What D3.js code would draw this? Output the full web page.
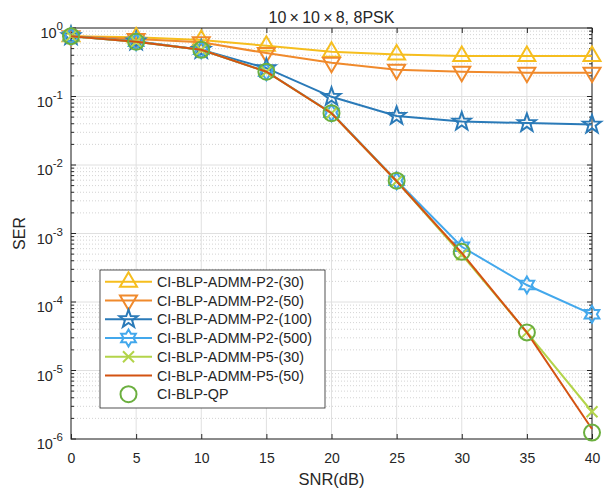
<!DOCTYPE html>
<html>
<head>
<meta charset="utf-8">
<script src="https://d3js.org/d3.v7.min.js"></script>
<style>
  body { margin: 0; background: #fff; }
  text { font-family: "Liberation Sans", Arial, sans-serif; fill: #262626; }
</style>
</head>
<body>
<script>
(function(){

  //data
  var snr = [0, 5, 10, 15, 20, 25, 30, 35, 40];
  var p2_30  = [0.76, 0.73, 0.67, 0.55, 0.45, 0.41, 0.39, 0.39, 0.39];
  var p2_50  = [0.76, 0.69, 0.62, 0.43, 0.31, 0.245, 0.23, 0.223, 0.223];
  var p2_100 = [0.76, 0.64, 0.48, 0.26, 0.099, 0.052, 0.043, 0.041, 0.039];
  var p2_500 = [0.76, 0.63, 0.48, 0.23, 0.058, 0.0059, 0.00064, 0.000177, 0.000066];
  var p5_30  = [0.76, 0.63, 0.48, 0.23, 0.057, 0.0058, 0.00049, 0.000036, 0.0000025];
  var p5_50  = [0.76, 0.63, 0.48, 0.23, 0.057, 0.0058, 0.00052, 0.000036, 0.0000014];
  var qp     = [0.76, 0.63, 0.48, 0.23, 0.057, 0.0059, 0.00054, 0.000036, 0.00000124];

  var names = ["CI-BLP-ADMM-P2-(30)", "CI-BLP-ADMM-P2-(50)", "CI-BLP-ADMM-P2-(100)",
               "CI-BLP-ADMM-P2-(500)", "CI-BLP-ADMM-P5-(30)", "CI-BLP-ADMM-P5-(50)", "CI-BLP-QP"];
  var xTicks = [0, 5, 10, 15, 20, 25, 30, 35, 40];
  var yExp = [0, -1, -2, -3, -4, -5, -6];

  //series table built from the arrays above
  var series = [
    {name: names[0], vals: p2_30,  color: "#F6BE1E", marker: "up",    line: true},
    {name: names[1], vals: p2_50,  color: "#F08A2C", marker: "down",  line: true},
    {name: names[2], vals: p2_100, color: "#2A7AB8", marker: "penta", line: true},
    {name: names[3], vals: p2_500, color: "#43A8EC", marker: "hexa",  line: true},
    {name: names[4], vals: p5_30,  color: "#B3D44A", marker: "x",     line: true},
    {name: names[5], vals: p5_50,  color: "#D35312", marker: "none",  line: true},
    {name: names[6], vals: qp,     color: "#6BAF3F", marker: "circle", line: false}
  ];

  var width = 605, height = 489;
  var margin = {top: 28, right: 13, bottom: 50, left: 71};

  var svg = d3.select("body").append("svg")
    .attr("width", width)
    .attr("height", height);

  var x = d3.scaleLinear().domain([0, 40]).range([margin.left, width - margin.right]);
  var y = d3.scaleLog().domain([1e-6, 1]).range([height - margin.bottom, margin.top]);

  var x0 = margin.left, x1 = width - margin.right, y0 = height - margin.bottom, y1 = margin.top;

  //minor grid (dotted) and major grid
  var minors = [];
  yExp.forEach(function(e){
    if (e === 0) return;
    for (var k = 2; k <= 9; k++) minors.push(k * Math.pow(10, e));
  });
  svg.append("g").selectAll("line").data(minors).enter().append("line")
    .attr("x1", x0).attr("x2", x1)
    .attr("y1", function(d){ return y(d); }).attr("y2", function(d){ return y(d); })
    .attr("stroke", "#c8c8c8").attr("stroke-width", 0.8).attr("stroke-dasharray", "1,2");
  svg.append("g").selectAll("line").data(yExp).enter().append("line")
    .attr("x1", x0).attr("x2", x1)
    .attr("y1", function(d){ return y(Math.pow(10, d)); }).attr("y2", function(d){ return y(Math.pow(10, d)); })
    .attr("stroke", "#e0e0e0").attr("stroke-width", 1);
  svg.append("g").selectAll("line").data(xTicks).enter().append("line")
    .attr("x1", function(d){ return x(d); }).attr("x2", function(d){ return x(d); })
    .attr("y1", y0).attr("y2", y1)
    .attr("stroke", "#e0e0e0").attr("stroke-width", 1);

  //axes (ticks inward, box on)
  var axisColor = "#262626";
  var bottomAxis = d3.axisBottom(x).tickValues(xTicks).tickSizeInner(-5).tickSizeOuter(0).tickPadding(14);
  var gx = svg.append("g").attr("transform", "translate(0," + y0 + ")").call(bottomAxis);
  gx.select(".domain").remove();
  gx.selectAll("line").attr("stroke", axisColor);
  gx.selectAll("text").style("font-size", "14px").style("font-family", "'Liberation Sans', Arial, sans-serif").attr("fill", axisColor);

  var topAxis = d3.axisTop(x).tickValues(xTicks).tickSizeInner(-5).tickSizeOuter(0).tickFormat("");
  var gt = svg.append("g").attr("transform", "translate(0," + y1 + ")").call(topAxis);
  gt.select(".domain").remove();
  gt.selectAll("line").attr("stroke", axisColor);

  [x0, x1].forEach(function(xp, i){
    var dir = i === 0 ? 1 : -1;
    var g = svg.append("g");
    g.selectAll("line.maj").data(yExp).enter().append("line")
      .attr("x1", xp).attr("x2", xp + dir * 5)
      .attr("y1", function(d){ return y(Math.pow(10, d)); }).attr("y2", function(d){ return y(Math.pow(10, d)); })
      .attr("stroke", axisColor);
    g.selectAll("line.min").data(minors).enter().append("line")
      .attr("x1", xp).attr("x2", xp + dir * 3)
      .attr("y1", function(d){ return y(d); }).attr("y2", function(d){ return y(d); })
      .attr("stroke", axisColor);
  });

  svg.append("rect")
    .attr("x", x0).attr("y", y1).attr("width", x1 - x0).attr("height", y0 - y1)
    .attr("fill", "none").attr("stroke", axisColor).attr("stroke-width", 1);

  //y tick labels 10^n
  var yl = svg.append("g").selectAll("text").data(yExp).enter().append("text")
    .attr("x", x0 - 8)
    .attr("y", function(d){ return y(Math.pow(10, d)) + 10; })
    .attr("text-anchor", "end")
    .style("font-size", "14.5px");
  yl.each(function(d){
    var t = d3.select(this);
    t.append("tspan").text("10");
    t.append("tspan").attr("dy", -8).style("font-size", "11.5px").text(String(d));
  });

  //labels and title
  svg.append("text").attr("x", (x0 + x1) / 2).attr("y", 485).attr("text-anchor", "middle")
    .style("font-size", "16.5px").text("SNR(dB)");
  svg.append("text").attr("transform", "translate(25," + ((y0 + y1) / 2) + ") rotate(-90)")
    .attr("text-anchor", "middle").style("font-size", "16px").text("SER");
  svg.append("text").attr("x", (x0 + x1) / 2).attr("y", 23).attr("text-anchor", "middle")
    .style("font-size", "16px").text("10\u2009\u00d7\u200910\u2009\u00d7\u20098, 8PSK");

  //marker path generator
  function markerPath(type){
    var p = d3.path(), i, a, r;
    if (type === "up"){
      p.moveTo(0, -9.5); p.lineTo(8.5, 5); p.lineTo(-8.5, 5); p.closePath();
    } else if (type === "down"){
      p.moveTo(0, 9.5); p.lineTo(8.5, -5); p.lineTo(-8.5, -5); p.closePath();
    } else if (type === "penta"){
      for (i = 0; i < 10; i++){
        r = i % 2 === 0 ? 9.5 : 3.8;
        a = -Math.PI / 2 + i * Math.PI / 5;
        if (i === 0) p.moveTo(r * Math.cos(a), r * Math.sin(a)); else p.lineTo(r * Math.cos(a), r * Math.sin(a));
      }
      p.closePath();
    } else if (type === "hexa"){
      for (i = 0; i < 12; i++){
        r = i % 2 === 0 ? 8.5 : 8.5 / Math.sqrt(3);
        a = -Math.PI / 2 + i * Math.PI / 6;
        if (i === 0) p.moveTo(r * Math.cos(a), r * Math.sin(a)); else p.lineTo(r * Math.cos(a), r * Math.sin(a));
      }
      p.closePath();
    } else if (type === "x"){
      p.moveTo(-5.5, -5.5); p.lineTo(5.5, 5.5); p.moveTo(5.5, -5.5); p.lineTo(-5.5, 5.5);
    } else if (type === "circle"){
      p.arc(0, 0, 8, 0, 2 * Math.PI);
    }
    return p.toString();
  }

  var line = d3.line()
    .x(function(d, i){ return x(snr[i]); })
    .y(function(d){ return y(d); });

  //draw series in order
  series.forEach(function(s){
    var g = svg.append("g");
    if (s.line){
      g.append("path").datum(s.vals)
        .attr("d", line).attr("fill", "none")
        .attr("stroke", s.color).attr("stroke-width", 2);
    }
    if (s.marker !== "none"){
      g.selectAll("path.m").data(s.vals).enter().append("path")
        .attr("class", "m")
        .attr("transform", function(d, i){ return "translate(" + x(snr[i]) + "," + y(d) + ")"; })
        .attr("d", markerPath(s.marker))
        .attr("fill", "none").attr("stroke", s.color).attr("stroke-width", 2);
    }
  });

  //legend
  var lg = svg.append("g");
  var lx = 100, ly = 270, lw = 225, lh = 138, rowH = 18.75;
  lg.append("rect").attr("x", lx).attr("y", ly).attr("width", lw).attr("height", lh)
    .attr("fill", "#fff").attr("stroke", axisColor).attr("stroke-width", 0.8);
  series.forEach(function(s, i){
    var cy = ly + 11.7 + i * rowH;
    if (s.line){
      lg.append("line").attr("x1", lx + 5).attr("x2", lx + 52).attr("y1", cy).attr("y2", cy)
        .attr("stroke", s.color).attr("stroke-width", 2);
    }
    if (s.marker !== "none"){
      lg.append("path").attr("transform", "translate(" + (lx + 28.5) + "," + cy + ")")
        .attr("d", markerPath(s.marker)).attr("fill", "none")
        .attr("stroke", s.color).attr("stroke-width", 2);
    }
    lg.append("text").attr("x", lx + 57).attr("y", cy + 5.2)
      .style("font-size", "14.3px").text(s.name);
  });

})();
</script>
</body>
</html>
